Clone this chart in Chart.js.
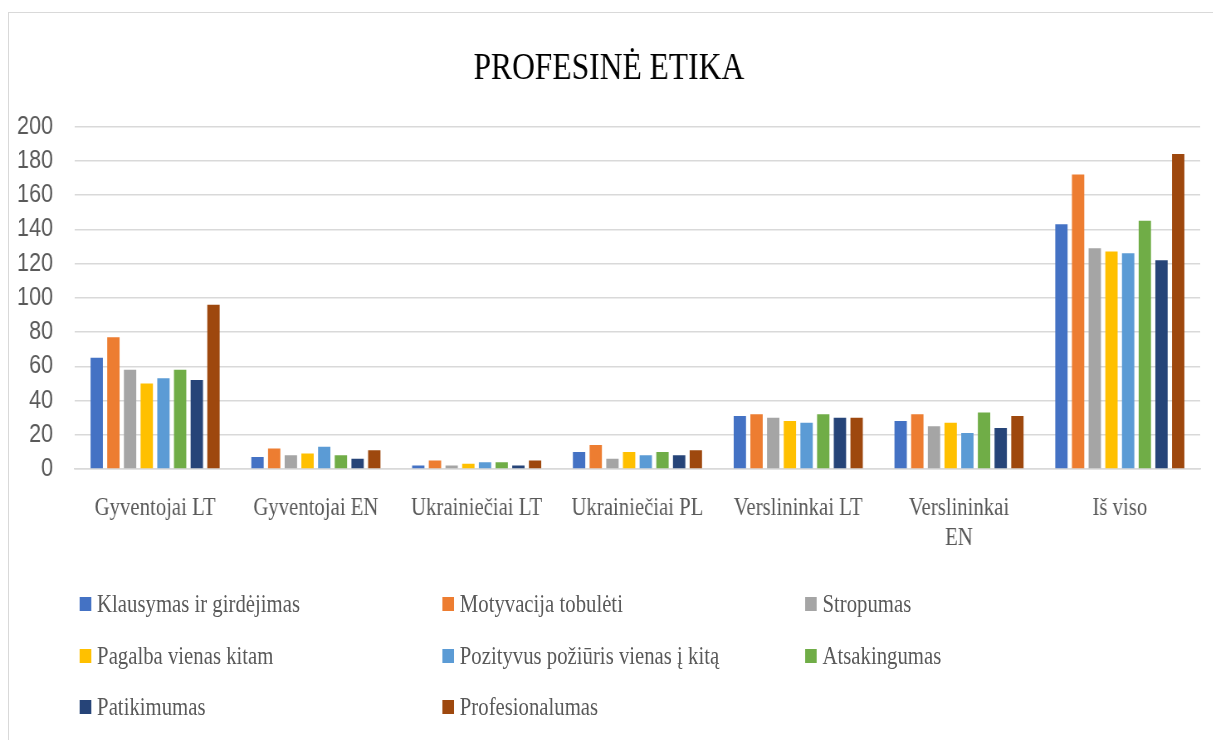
<!DOCTYPE html>
<html>
<head>
<meta charset="utf-8">
<script src="https://cdn.jsdelivr.net/npm/chart.js@4.4.1/dist/chart.umd.min.js"></script>
<style>
    body { margin: 0; background: #fff; overflow: hidden; }
    #frame { position: absolute; left: 8px; top: 12px; width: 1300px; height: 800px; border: 1px solid #d9d9d9; }
    /* the original picture is squeezed sideways, so draw wide and squeeze */
    #wrap { position: absolute; left: 0; top: 0; width: 1461px; height: 740px; transform: scaleX(0.83); transform-origin: 0 0; }
    #chartBox { position: absolute; left: 0; top: 0; width: 1461px; height: 587px; }
    .item { position: absolute; display: flex; align-items: center; height: 30px; margin-top: -15px;
            font: 25px "Liberation Serif", serif; color: #595959; white-space: nowrap; }
    .item .box { width: 14px; height: 14px; margin-right: 7px; }
</style>
</head>
<body>
<div id="frame"></div>
<div id="wrap">
    <div id="chartBox"><canvas id="profChart"></canvas></div>
    <div id="legend"></div>
</div>
<script>
// Data
const categories = ['Gyventojai LT', 'Gyventojai EN', 'Ukrainiečiai LT', 'Ukrainiečiai PL', 'Verslininkai LT', ['Verslininkai', 'EN'], 'Iš viso'];
const seriesNames = ['Klausymas ir girdėjimas', 'Motyvacija tobulėti', 'Stropumas', 'Pagalba vienas kitam', 'Pozityvus požiūris vienas į kitą', 'Atsakingumas', 'Patikimumas', 'Profesionalumas'];
const klausymas = [65, 7, 2, 10, 31, 28, 143];
const motyvacija = [77, 12, 5, 14, 32, 32, 172];
const stropumas = [58, 8, 2, 6, 30, 25, 129];
const pagalba = [50, 9, 3, 10, 28, 27, 127];
const pozityvus = [53, 13, 4, 8, 27, 21, 126];
const atsakingumas = [58, 8, 4, 10, 32, 33, 145];
const patikimumas = [52, 6, 2, 8, 30, 24, 122];
const profesionalumas = [96, 11, 5, 11, 30, 31, 184];
const yTicks = [0, 20, 40, 60, 80, 100, 120, 140, 160, 180, 200];

const seriesValues = [klausymas, motyvacija, stropumas, pagalba, pozityvus, atsakingumas, patikimumas, profesionalumas];
const colors = ['#4472C4', '#ED7D31', '#A5A5A5', '#FFC000', '#5B9BD5', '#70AD47', '#264478', '#9E480E'];

const ctx = document.getElementById('profChart');

new Chart(ctx, {
    type: 'bar',
    data: {
        labels: categories,
        datasets: seriesValues.map((vals, i) => ({
            label: seriesNames[i],
            data: vals,
            backgroundColor: colors[i],
            borderWidth: 0,
            barPercentage: 0.74,
            categoryPercentage: 0.83
        }))
    },
    options: {
        responsive: true,
        maintainAspectRatio: false,
        animation: false,
        devicePixelRatio: 1,
        layout: {
            padding: { left: 21, right: 15, top: 0, bottom: 10 }
        },
        plugins: {
            legend: { display: false },
            tooltip: { enabled: false },
            title: {
                display: true,
                text: 'PROFESINĖ ETIKA',
                color: '#000',
                font: { family: 'Liberation Serif', size: 38, weight: 'normal' },
                padding: { top: 46, bottom: 35 }
            }
        },
        scales: {
            x: {
                grid: { display: false, drawTicks: false },
                border: { display: true, color: '#d9d9d9', width: 1.5 },
                ticks: {
                    color: '#595959',
                    padding: 24,
                    maxRotation: 0,
                    autoSkip: false,
                    font: { family: 'Liberation Serif', size: 25 }
                }
            },
            y: {
                min: yTicks[0],
                max: yTicks[yTicks.length - 1],
                afterBuildTicks: (axis) => { axis.ticks = yTicks.map(v => ({ value: v })); },
                afterFit: (axis) => { axis.width = 69; },
                grid: { color: '#d9d9d9', lineWidth: 1.5, drawTicks: false },
                border: { display: false },
                ticks: {
                    color: '#595959',
                    padding: 26,
                    autoSkip: false,
                    font: { family: 'Liberation Sans', size: 26 }
                }
            }
        }
    }
});

// legend in three columns
const legendBox = document.getElementById('legend');
const colX = [96, 533, 970];
const rowY = [604, 656, 707];
seriesNames.forEach((name, i) => {
    const item = document.createElement('div');
    item.className = 'item';
    item.style.left = colX[i % 3] + 'px';
    item.style.top = rowY[Math.floor(i / 3)] + 'px';
    item.innerHTML = '<span class="box" style="background:' + colors[i] + '"></span>' + name;
    legendBox.appendChild(item);
});
</script>
</body>
</html>
